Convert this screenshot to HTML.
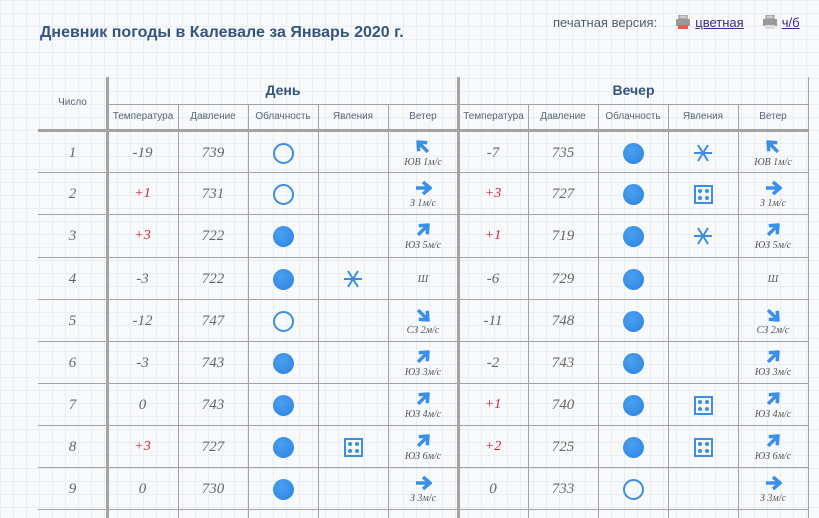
<!DOCTYPE html>
<html><head><meta charset="utf-8"><style>
*{margin:0;padding:0;box-sizing:border-box}
body{width:819px;height:518px;overflow:hidden;position:relative;font-family:"Liberation Sans",sans-serif;
background-color:#f7f9fb;
background-image:linear-gradient(#eaeef2 1px,transparent 1px),linear-gradient(90deg,#eaeef2 1px,transparent 1px);
background-size:13px 13px;}
.t{position:absolute;left:40px;top:24px;font-size:16px;font-weight:bold;color:#34557f}
.pv{position:absolute;left:553px;top:15px;font-size:13px;color:#4d5e75}
.pv a{color:#3a2a8a;text-decoration:underline}
.pr{display:inline-block;width:16px;height:14px;vertical-align:-2px;margin-right:4px}
.l{position:absolute;background:#a3a3a3}
.h{position:absolute;font-size:10px;color:#5a6675;text-align:center;line-height:26px;height:26px;top:104px}
.g{position:absolute;top:82px;font-size:14px;font-weight:bold;color:#34557f;text-align:center}
.r{position:absolute;left:38px;width:770px;height:42px}
.r>div{position:absolute;top:0;height:42px;display:flex;align-items:center;justify-content:center;flex-direction:column;font-family:"Liberation Serif",serif;font-style:italic;font-size:15px;color:#666}
.a0{left:0;width:69px}.a1{left:69px;width:71px}.a2{left:140px;width:70px}.a3{left:210px;width:70px}.a4{left:280px;width:70px}.a5{left:350px;width:70px}
.a6{left:420px;width:70px}.a7{left:490px;width:70px}.a8{left:560px;width:70px}.a9{left:630px;width:70px}.a10{left:700px;width:70px}
.red{color:#d0202a!important;font-size:14px!important}
.o{width:21px;height:21px;border:2px solid #3d8ee0;border-radius:50%}
.f{width:21px;height:21px;border-radius:50%;background:radial-gradient(circle at 40% 35%,#4aa0f0,#2a82de)}
.w{font-size:10px!important;color:#555!important}
.w svg{display:block;margin-bottom:1px}
.rain{width:19px;height:19px;border:2px solid #3d8ee0;position:relative}
.rain i{position:absolute;width:4px;height:4px;border-radius:50%;background:#3d8ee0}
</style></head><body>
<svg width="0" height="0" style="position:absolute"><defs>
<g id="ar"><path d="M2 9 H14" stroke="#3a90e8" stroke-width="3.5" fill="none"/><path d="M9 3 L16 9 L9 15" stroke="#3a90e8" stroke-width="3.5" fill="none"/></g>
<g id="sn" stroke="#3d8ee0" stroke-width="2"><path d="M0 9H18M4 1L14 17M4 17L14 1"/></g>
</defs></svg>
<div class="t">Дневник погоды в Калевале за Январь 2020 г.</div>
<div class="pv">печатная версия: &nbsp;&nbsp;&nbsp;&nbsp;<svg class="pr" viewBox="0 0 16 14"><rect x="4" y="0" width="8" height="4" fill="#ccc" stroke="#888"/><rect x="1" y="4" width="14" height="7" fill="#999"/><rect x="3" y="10" width="10" height="4" fill="#e55"/></svg><a>цветная</a> &nbsp;&nbsp;&nbsp;&nbsp;<svg class="pr" viewBox="0 0 16 14"><rect x="4" y="0" width="8" height="4" fill="#ccc" stroke="#888"/><rect x="1" y="4" width="14" height="7" fill="#999"/><rect x="3" y="10" width="10" height="4" fill="#ddd"/></svg><a>ч/б</a></div>

<div class="h" style="left:38px;width:69px;top:90px">Число</div>
<div class="g" style="left:108px;width:350px">День</div>
<div class="g" style="left:459px;width:349px">Вечер</div>
<div class="h" style="left:108px;width:70px">Температура</div>
<div class="h" style="left:178px;width:70px">Давление</div>
<div class="h" style="left:248px;width:70px">Облачность</div>
<div class="h" style="left:318px;width:70px">Явления</div>
<div class="h" style="left:388px;width:70px">Ветер</div>
<div class="h" style="left:459px;width:69px">Температура</div>
<div class="h" style="left:528px;width:70px">Давление</div>
<div class="h" style="left:598px;width:70px">Облачность</div>
<div class="h" style="left:668px;width:70px">Явления</div>
<div class="h" style="left:738px;width:70px">Ветер</div>

<div class="l" style="left:107px;top:104px;width:701px;height:1px"></div>
<div class="l" style="left:38px;top:129px;width:770px;height:3px"></div>
<div class="l" style="left:38px;top:172px;width:770px;height:1px"></div>
<div class="l" style="left:38px;top:214px;width:770px;height:1px"></div>
<div class="l" style="left:38px;top:257px;width:770px;height:1px"></div>
<div class="l" style="left:38px;top:299px;width:770px;height:1px"></div>
<div class="l" style="left:38px;top:341px;width:770px;height:1px"></div>
<div class="l" style="left:38px;top:383px;width:770px;height:1px"></div>
<div class="l" style="left:38px;top:425px;width:770px;height:1px"></div>
<div class="l" style="left:38px;top:467px;width:770px;height:1px"></div>
<div class="l" style="left:38px;top:509px;width:770px;height:1px"></div>
<div class="l" style="left:106px;top:77px;width:3px;height:441px"></div>
<div class="l" style="left:457px;top:77px;width:3px;height:441px"></div>
<div class="l" style="left:808px;top:77px;width:1px;height:441px"></div>
<div class="l" style="left:178px;top:104px;width:1px;height:414px"></div>
<div class="l" style="left:248px;top:104px;width:1px;height:414px"></div>
<div class="l" style="left:318px;top:104px;width:1px;height:414px"></div>
<div class="l" style="left:388px;top:104px;width:1px;height:414px"></div>
<div class="l" style="left:528px;top:104px;width:1px;height:414px"></div>
<div class="l" style="left:598px;top:104px;width:1px;height:414px"></div>
<div class="l" style="left:668px;top:104px;width:1px;height:414px"></div>
<div class="l" style="left:738px;top:104px;width:1px;height:414px"></div>

<div class="r" style="top:132px"><div class="a0">1</div><div class="a1">-19</div><div class="a2">739</div><div class="a3"><span class="o"></span></div><div class="a4"></div>
<div class="a5 w"><svg width="18" height="18" style="transform:rotate(-135deg)"><use href="#ar"/></svg>ЮВ 1м/с</div>
<div class="a6">-7</div><div class="a7">735</div><div class="a8"><span class="f"></span></div><div class="a9"><svg width="18" height="18"><use href="#sn"/></svg></div>
<div class="a10 w"><svg width="18" height="18" style="transform:rotate(-135deg)"><use href="#ar"/></svg>ЮВ 1м/с</div></div>

<div class="r" style="top:173px"><div class="a0">2</div><div class="a1 red">+1</div><div class="a2">731</div><div class="a3"><span class="o"></span></div><div class="a4"></div>
<div class="a5 w"><svg width="18" height="18"><use href="#ar"/></svg>З 1м/с</div>
<div class="a6 red">+3</div><div class="a7">727</div><div class="a8"><span class="f"></span></div><div class="a9"><span class="rain"><i style="left:2px;top:2px"></i><i style="left:9px;top:2px"></i><i style="left:2px;top:9px"></i><i style="left:9px;top:9px"></i></span></div>
<div class="a10 w"><svg width="18" height="18"><use href="#ar"/></svg>З 1м/с</div></div>

<div class="r" style="top:215px"><div class="a0">3</div><div class="a1 red">+3</div><div class="a2">722</div><div class="a3"><span class="f"></span></div><div class="a4"></div>
<div class="a5 w"><svg width="18" height="18" style="transform:rotate(-45deg)"><use href="#ar"/></svg>ЮЗ 5м/с</div>
<div class="a6 red">+1</div><div class="a7">719</div><div class="a8"><span class="f"></span></div><div class="a9"><svg width="18" height="18"><use href="#sn"/></svg></div>
<div class="a10 w"><svg width="18" height="18" style="transform:rotate(-45deg)"><use href="#ar"/></svg>ЮЗ 5м/с</div></div>

<div class="r" style="top:258px"><div class="a0">4</div><div class="a1">-3</div><div class="a2">722</div><div class="a3"><span class="f"></span></div><div class="a4"><svg width="18" height="18"><use href="#sn"/></svg></div>
<div class="a5 w">Ш</div>
<div class="a6">-6</div><div class="a7">729</div><div class="a8"><span class="f"></span></div><div class="a9"></div>
<div class="a10 w">Ш</div></div>

<div class="r" style="top:300px"><div class="a0">5</div><div class="a1">-12</div><div class="a2">747</div><div class="a3"><span class="o"></span></div><div class="a4"></div>
<div class="a5 w"><svg width="18" height="18" style="transform:rotate(45deg)"><use href="#ar"/></svg>СЗ 2м/с</div>
<div class="a6">-11</div><div class="a7">748</div><div class="a8"><span class="f"></span></div><div class="a9"></div>
<div class="a10 w"><svg width="18" height="18" style="transform:rotate(45deg)"><use href="#ar"/></svg>СЗ 2м/с</div></div>

<div class="r" style="top:342px"><div class="a0">6</div><div class="a1">-3</div><div class="a2">743</div><div class="a3"><span class="f"></span></div><div class="a4"></div>
<div class="a5 w"><svg width="18" height="18" style="transform:rotate(-45deg)"><use href="#ar"/></svg>ЮЗ 3м/с</div>
<div class="a6">-2</div><div class="a7">743</div><div class="a8"><span class="f"></span></div><div class="a9"></div>
<div class="a10 w"><svg width="18" height="18" style="transform:rotate(-45deg)"><use href="#ar"/></svg>ЮЗ 3м/с</div></div>

<div class="r" style="top:384px"><div class="a0">7</div><div class="a1">0</div><div class="a2">743</div><div class="a3"><span class="f"></span></div><div class="a4"></div>
<div class="a5 w"><svg width="18" height="18" style="transform:rotate(-45deg)"><use href="#ar"/></svg>ЮЗ 4м/с</div>
<div class="a6 red">+1</div><div class="a7">740</div><div class="a8"><span class="f"></span></div><div class="a9"><span class="rain"><i style="left:2px;top:2px"></i><i style="left:9px;top:2px"></i><i style="left:2px;top:9px"></i><i style="left:9px;top:9px"></i></span></div>
<div class="a10 w"><svg width="18" height="18" style="transform:rotate(-45deg)"><use href="#ar"/></svg>ЮЗ 4м/с</div></div>

<div class="r" style="top:426px"><div class="a0">8</div><div class="a1 red">+3</div><div class="a2">727</div><div class="a3"><span class="f"></span></div><div class="a4"><span class="rain"><i style="left:2px;top:2px"></i><i style="left:9px;top:2px"></i><i style="left:2px;top:9px"></i><i style="left:9px;top:9px"></i></span></div>
<div class="a5 w"><svg width="18" height="18" style="transform:rotate(-45deg)"><use href="#ar"/></svg>ЮЗ 6м/с</div>
<div class="a6 red">+2</div><div class="a7">725</div><div class="a8"><span class="f"></span></div><div class="a9"><span class="rain"><i style="left:2px;top:2px"></i><i style="left:9px;top:2px"></i><i style="left:2px;top:9px"></i><i style="left:9px;top:9px"></i></span></div>
<div class="a10 w"><svg width="18" height="18" style="transform:rotate(-45deg)"><use href="#ar"/></svg>ЮЗ 6м/с</div></div>

<div class="r" style="top:468px"><div class="a0">9</div><div class="a1">0</div><div class="a2">730</div><div class="a3"><span class="f"></span></div><div class="a4"></div>
<div class="a5 w"><svg width="18" height="18"><use href="#ar"/></svg>З 3м/с</div>
<div class="a6">0</div><div class="a7">733</div><div class="a8"><span class="o"></span></div><div class="a9"></div>
<div class="a10 w"><svg width="18" height="18"><use href="#ar"/></svg>З 3м/с</div></div>
</body></html>
